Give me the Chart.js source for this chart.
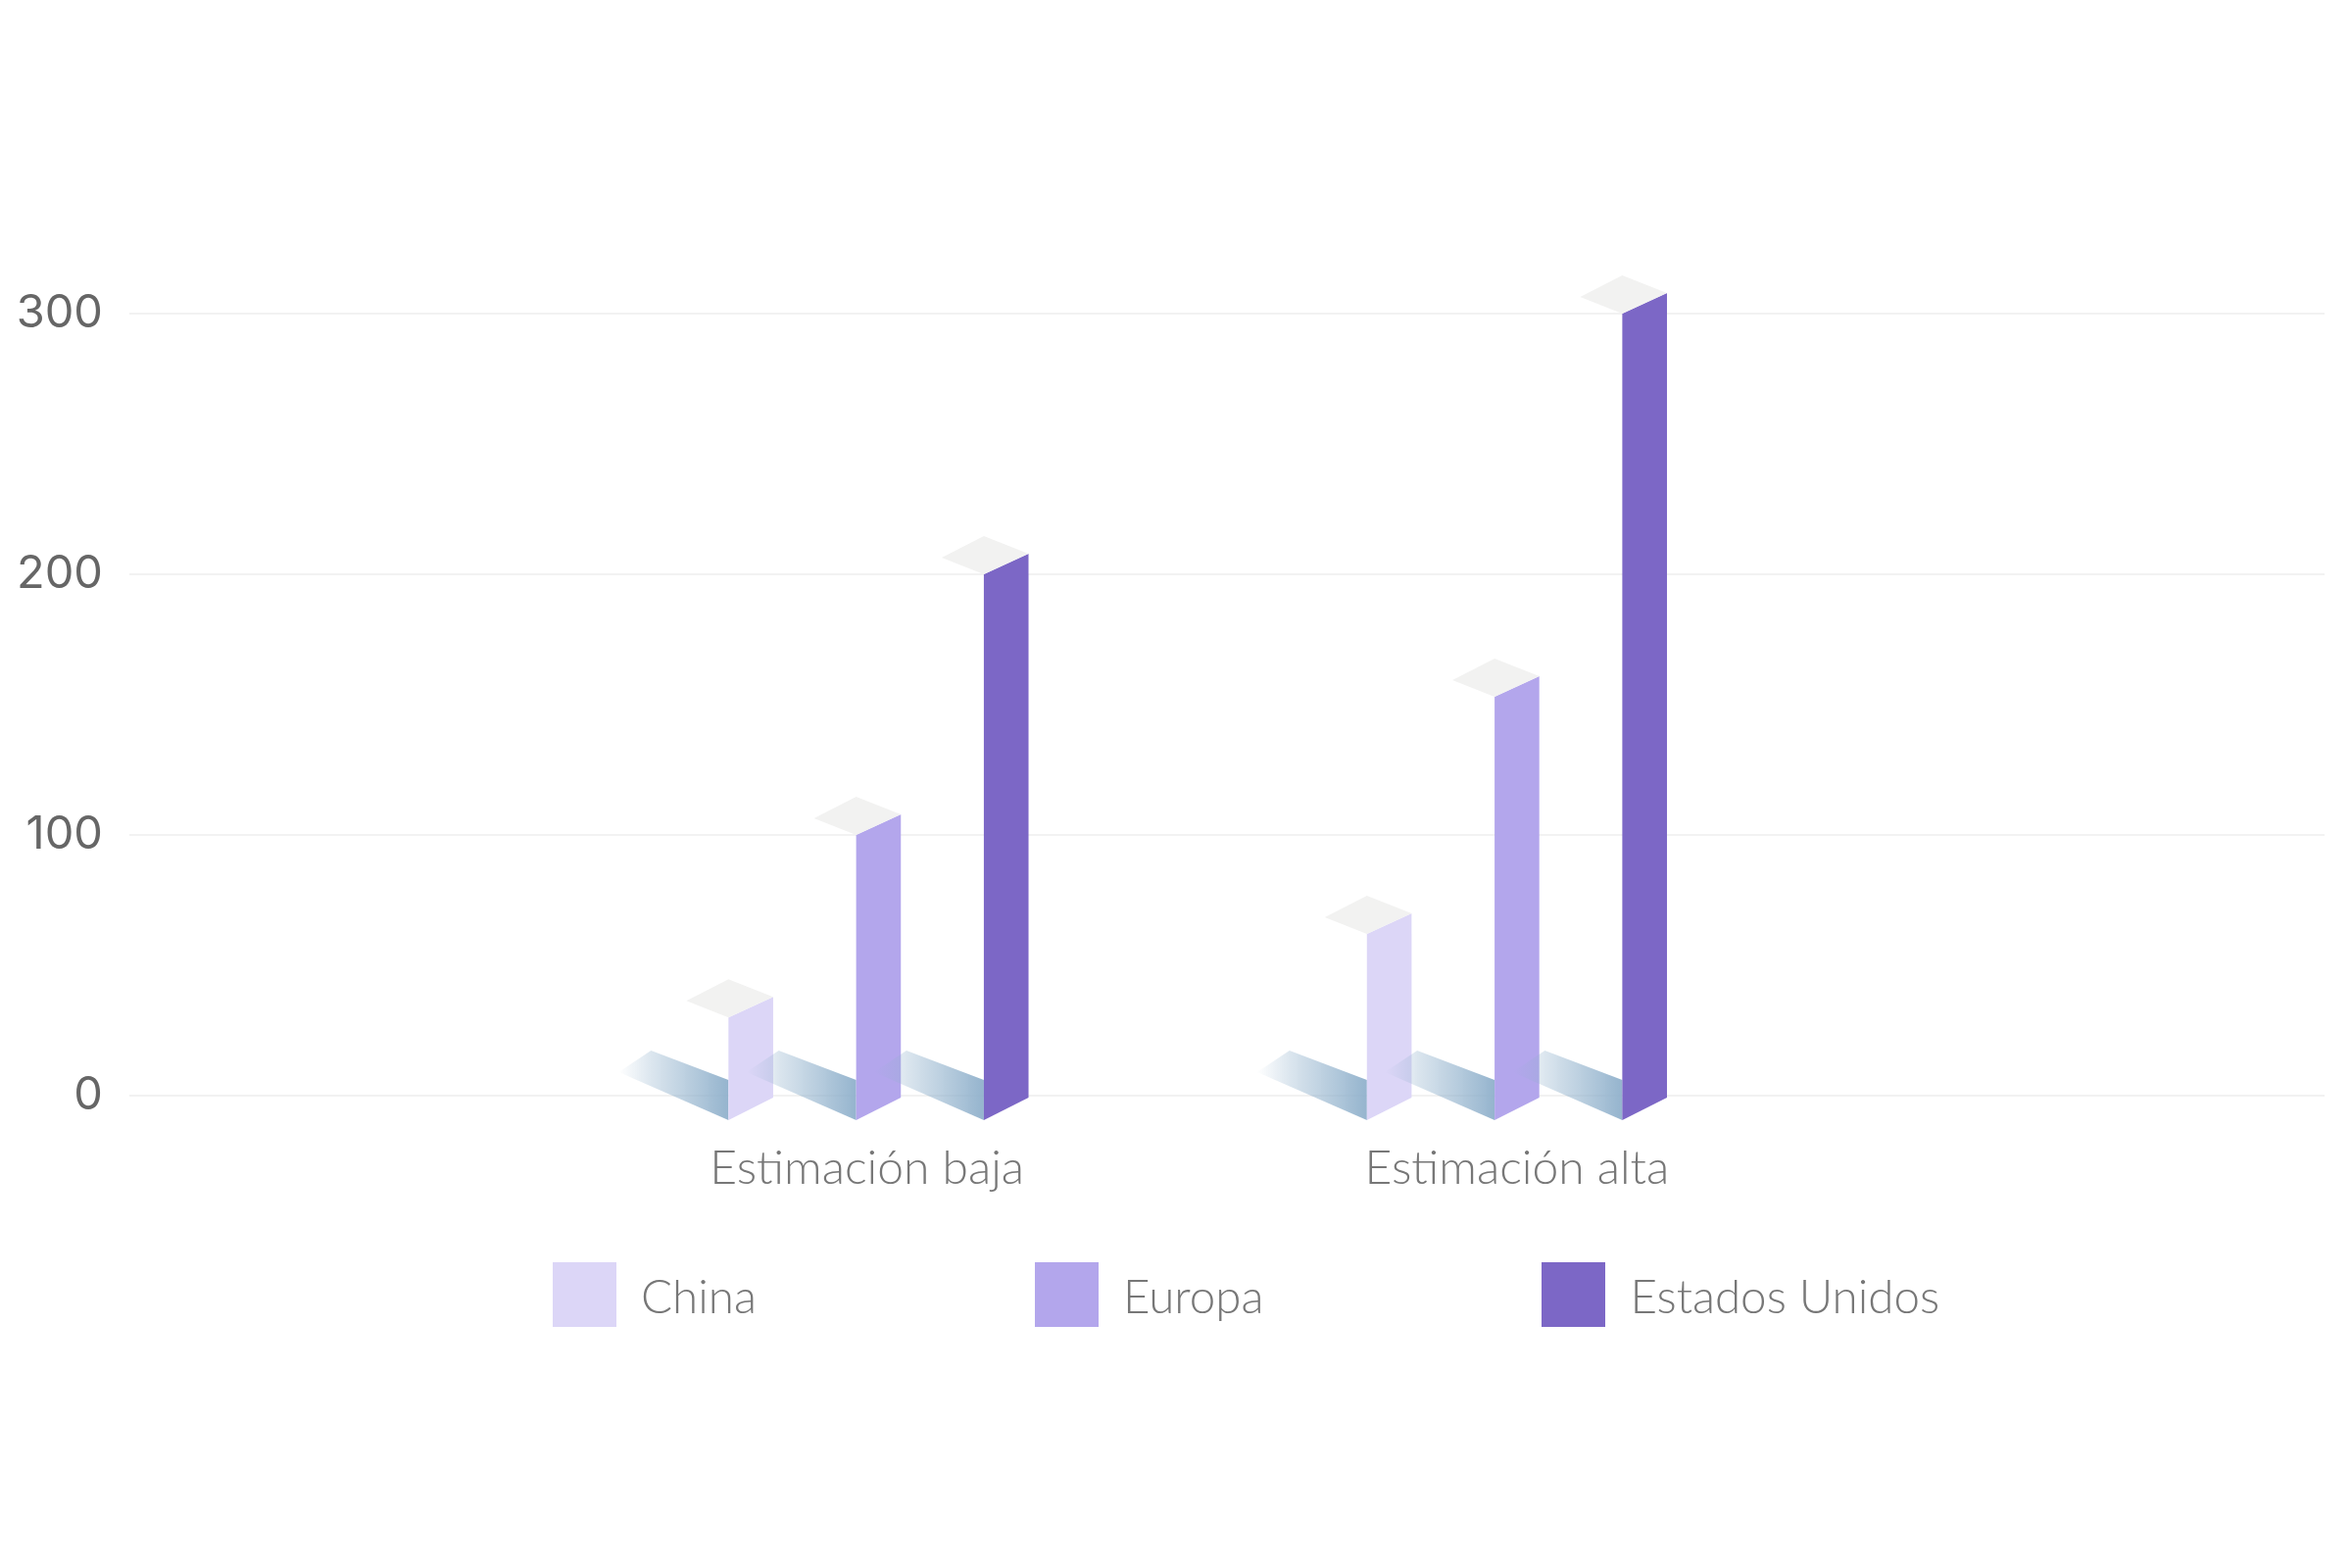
<!DOCTYPE html>
<html lang="es">
<head>
<meta charset="utf-8">
<title>Estimación</title>
<script src="https://cdn.jsdelivr.net/npm/chart.js@4"></script>
<style>
    body { margin: 0; background: #fff; }
    #wrap { position: relative; width: 2400px; height: 1600px; }
    #legend { position: absolute; left: 564px; top: 1288px; display: flex; gap: 284px; }
    .item { display: flex; align-items: center; gap: 25px; height: 66px; font: 300 47.5px Lato, sans-serif; color: #777; white-space: nowrap; }
    .swatch { width: 65px; height: 66px; }
</style>
</head>
<body>
<div id="wrap">
    <canvas id="chart" width="2400" height="1600"></canvas>
    <div id="legend"></div>
</div>
<script>
const categories = ['Estimación baja', 'Estimación alta'];
const categoryPositions = [1, 2];
const seriesNames = ['China', 'Europa', 'Estados Unidos'];
const china = [30, 62];
const europa = [100, 153];
const estadosUnidos = [200, 300];
const yTicks = [0, 100, 200, 300];
const colors = ['#dcd6f7', '#b3a6ec', '#7c67c6'];

// draws each bar as an isometric block, from the positions the bar controller worked out
const blocks = {
    id: 'blocks',
    beforeDatasetsDraw(chart) {
        const ctx = chart.ctx;
        chart.data.datasets.forEach((ds, i) => {
            chart.getDatasetMeta(i).data.forEach(bar => {
                const left = bar.x - bar.width / 2;
                const right = bar.x + bar.width / 2;

                // shadow on the floor
                const shadow = ctx.createLinearGradient(left - 112, 0, left, 0);
                shadow.addColorStop(0, 'rgba(143,176,203,0)');
                shadow.addColorStop(0.3, 'rgba(143,176,203,0.32)');
                shadow.addColorStop(1, 'rgba(143,176,203,0.95)');
                ctx.fillStyle = shadow;
                poly(ctx, [[left, bar.base + 26], [left, bar.base - 15], [left - 79, bar.base - 45], [left - 112, bar.base - 23]]);

                // front face
                ctx.fillStyle = ds.backgroundColor;
                poly(ctx, [[left, bar.y], [right, bar.y - 21], [right, bar.base + 3], [left, bar.base + 26]]);

                // top
                ctx.fillStyle = '#f2f2f1';
                poly(ctx, [[left, bar.y], [right, bar.y - 21], [left, bar.y - 39], [left - 43, bar.y - 17]]);
            });
        });
        return false;
    }
};

function poly(ctx, pts) {
    ctx.beginPath();
    pts.forEach((p, i) => i ? ctx.lineTo(p[0], p[1]) : ctx.moveTo(p[0], p[1]));
    ctx.closePath();
    ctx.fill();
}

new Chart(document.getElementById('chart'), {
    type: 'bar',
    data: {
        datasets: [china, europa, estadosUnidos].map((values, i) => ({
            label: seriesNames[i],
            data: values.map((v, j) => ({ x: categoryPositions[j], y: v })),
            backgroundColor: colors[i],
            categoryPercentage: 0.6,
            barPercentage: 0.35
        }))
    },
    options: {
        responsive: false,
        animation: false,
        layout: { padding: { top: 320, right: 28 } },
        plugins: { legend: { display: false }, tooltip: { enabled: false } },
        scales: {
            x: {
                type: 'linear',
                offset: false,
                min: -0.1734,
                max: 3.265,
                grid: { display: false },
                border: { display: false },
                // the first label sits a little left of its bars in the original
                afterBuildTicks: s => { s.ticks = [0.982, 2].map(value => ({ value })); },
                afterFit: s => { s.height = 482; },
                ticks: {
                    callback: (v, i) => categories[i],
                    autoSkip: false,
                    maxRotation: 0,
                    padding: 38,
                    color: '#777',
                    font: { family: 'Lato', size: 48, weight: '300' }
                }
            },
            y: {
                min: 0,
                max: 300,
                border: { display: false },
                grid: { color: '#f2f2f2', lineWidth: 2, drawTicks: false },
                afterBuildTicks: s => { s.ticks = yTicks.map(value => ({ value })); },
                afterFit: s => { s.width = 132; },
                ticks: {
                    padding: 27,
                    color: '#666',
                    font: { family: 'Inter', size: 47, weight: '400' }
                }
            }
        }
    },
    plugins: [blocks]
});

const legendEl = document.getElementById('legend');
seriesNames.forEach((name, i) => {
    legendEl.innerHTML += `<div class="item"><div class="swatch" style="background:${colors[i]}"></div>${name}</div>`;
});
</script>
</body>
</html>
